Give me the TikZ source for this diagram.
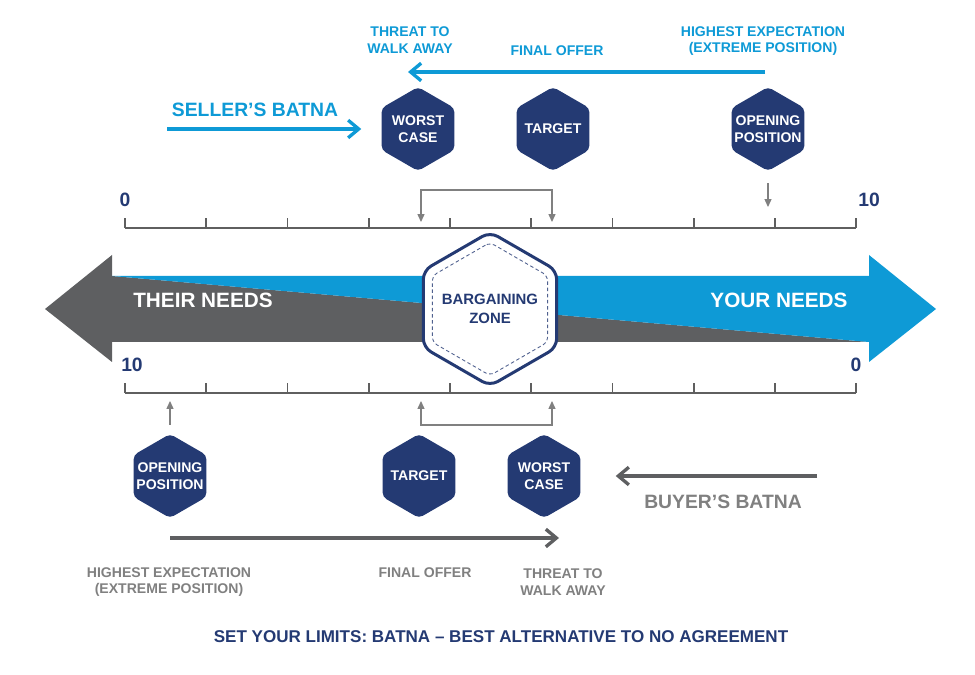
\documentclass[tikz,border=0pt]{standalone}
\usepackage{fontspec}
\setmainfont{Liberation Sans}
\usepackage{tikz}
\usetikzlibrary{shapes.geometric,positioning,calc,arrows.meta}
\definecolor{navy}{RGB}{36,58,115}
\definecolor{skyblue}{RGB}{14,154,214}
\definecolor{arrowgray}{RGB}{94,95,97}
\definecolor{axisgray}{RGB}{95,95,95}
\definecolor{labelgray}{RGB}{128,128,128}

\begin{document}
\begin{tikzpicture}[
    x=0.02cm, y=-0.02cm,
    hexbox/.style={regular polygon, regular polygon sides=6, shape border rotate=30,
        fill=navy, draw=none, rounded corners=2.5pt, minimum size=1.68cm, inner sep=0pt},
    hextext/.style={text=white, align=center, font=\bfseries\fontsize{8}{9.5}\selectfont},
    zoneout/.style={regular polygon, regular polygon sides=6, shape border rotate=30,
        fill=white, draw=navy, line width=1.7pt, rounded corners=5pt, minimum size=3.08cm, inner sep=0pt},
    zonein/.style={regular polygon, regular polygon sides=6, shape border rotate=30,
        draw=navy!80, line width=0.5pt, dash pattern=on 2pt off 1.5pt, rounded corners=3pt,
        minimum size=2.66cm, inner sep=0pt},
    bluetext/.style={text=skyblue, align=center, font=\bfseries\fontsize{8}{9.3}\selectfont},
    graytext/.style={text=labelgray, align=center, font=\bfseries\fontsize{8}{9.3}\selectfont},
    batnatext/.style={font=\bfseries\fontsize{11}{12}\selectfont},
    needtext/.style={text=white, font=\bfseries\fontsize{11.8}{13}\selectfont},
    scalenum/.style={text=navy, font=\bfseries\fontsize{11}{12}\selectfont},
    scaleline/.style={draw=axisgray, line width=1.1pt},
    pointer/.style={-{Triangle[length=4.5pt,width=4pt]}, draw=labelgray, line width=0.6pt},
    bothpointer/.style={{Triangle[length=4.5pt,width=4pt]}-{Triangle[length=4.5pt,width=4pt]}, draw=labelgray, line width=0.6pt},
    bluearrow/.style={-{Straight Barb[length=6pt,width=10pt]}, draw=skyblue, line width=1.9pt},
    grayarrow/.style={-{Straight Barb[length=6pt,width=10pt]}, draw=arrowgray, line width=1.9pt}
]
    % page frame
    \useasboundingbox (0,0) rectangle (975,675);

    % Big double arrow: their needs (gray) / your needs (blue)
    \fill[arrowgray] (45,309) -- (112,255) -- (112,276) -- (869,342) -- (112,342) -- (112,362) -- cycle;
    \fill[skyblue] (112,276) -- (869,276) -- (869,255) -- (936,309) -- (869,362) -- (869,342) -- cycle;
    \node[needtext] (their) at (203,300) {THEIR NEEDS};
    \node[needtext] (your) at (779,300) {YOUR NEEDS};

    % Top scale 0..10
    \draw[scaleline] (125,228) -- (856.25,228);
    \foreach \i in {0,...,9} {
        \draw[scaleline] (125+81.25*\i,228) -- (125+81.25*\i,218);
    }
    \node[scalenum] (topzero) at (125,200) {0};
    \node[scalenum] (topten) at (869,200) {10};

    % Bottom scale 10..0
    \draw[scaleline] (125,393) -- (856.25,393);
    \foreach \i in {0,...,9} {
        \draw[scaleline] (125+81.25*\i,393) -- (125+81.25*\i,383);
    }
    \node[scalenum] (botten) at (132,365) {10};
    \node[scalenum] (botzero) at (856,365) {0};

    % Bargaining zone
    \node[zoneout] (zone) at (490,309) {};
    \node[zonein] (zoneinner) at (zone.center) {};
    \node[text=navy, align=center, font=\bfseries\fontsize{8.5}{11}\selectfont] (zonelabel) at (zone.center) {BARGAINING\\ZONE};

    % Seller side (top)
    \node[hexbox, label={[hextext]center:WORST\\CASE}] (wcTop) at (418,129) {};
    \node[hexbox, label={[hextext]center:TARGET}] (tgTop) at (553,129) {};
    \node[hexbox, label={[hextext]center:OPENING\\POSITION}] (opTop) at (768,129) {};

    \node[bluetext] (threatTop) at (410,40) {THREAT TO\\WALK AWAY};
    \node[bluetext] (finalTop) at (557,51) {FINAL OFFER};
    \node[bluetext] (highTop) at (763,41) {HIGHEST EXPECTATION\\(EXTREME POSITION)};
    \node[batnatext, text=skyblue] (seller) at (255,110) {SELLER’S BATNA};

    \coordinate (offerStart) at (765,72);
    \coordinate (offerEnd) at (408,72);
    \coordinate (sellerStart) at (167,129);
    \draw[bluearrow] (offerStart) -- (offerEnd);
    \draw[bluearrow, shorten >=0.4cm] (sellerStart) -- (wcTop.west);

    % pointers onto the top scale
    \coordinate (topWC) at (421,222);
    \coordinate (topTG) at (552,222);
    \coordinate (topOP) at (768,207);
    \draw[bothpointer] (topWC) |- (486,190) -| (topTG);
    \draw[pointer, shorten <=0.24cm] (opTop.south) -- (topOP);

    % Buyer side (bottom)
    \node[hexbox, label={[hextext]center:OPENING\\POSITION}] (opBot) at (170,476) {};
    \node[hexbox, label={[hextext]center:TARGET}] (tgBot) at (419,476) {};
    \node[hexbox, label={[hextext]center:WORST\\CASE}] (wcBot) at (544,476) {};

    \node[graytext] (highBot) at (169,582) {HIGHEST EXPECTATION\\(EXTREME POSITION)};
    \node[graytext] (finalBot) at (425,573) {FINAL OFFER};
    \node[graytext] (threatBot) at (563,582) {THREAT TO\\WALK AWAY};
    \node[batnatext, text=labelgray] (buyer) at (723,502) {BUYER’S BATNA};

    \coordinate (rangeStart) at (170,538);
    \coordinate (rangeEnd) at (559,538);
    \coordinate (buyerStart) at (817,476);
    \draw[grayarrow] (rangeStart) -- (rangeEnd);
    \draw[grayarrow, shorten >=0.7cm] (buyerStart) -- (wcBot.east);

    % pointers onto the bottom scale
    \coordinate (botOP) at (170,401);
    \coordinate (botTG) at (421,401);
    \coordinate (botWC) at (552,401);
    \draw[pointer, shorten <=0.18cm] (opBot.north) -- (botOP);
    \draw[bothpointer] (botTG) |- (486,425) -| (botWC);

    % Footer
    \node[text=navy, font=\bfseries\fontsize{9.7}{11}\selectfont] (footer) at (501,637) {SET YOUR LIMITS: BATNA – BEST ALTERNATIVE TO NO AGREEMENT};
\end{tikzpicture}
\end{document}
